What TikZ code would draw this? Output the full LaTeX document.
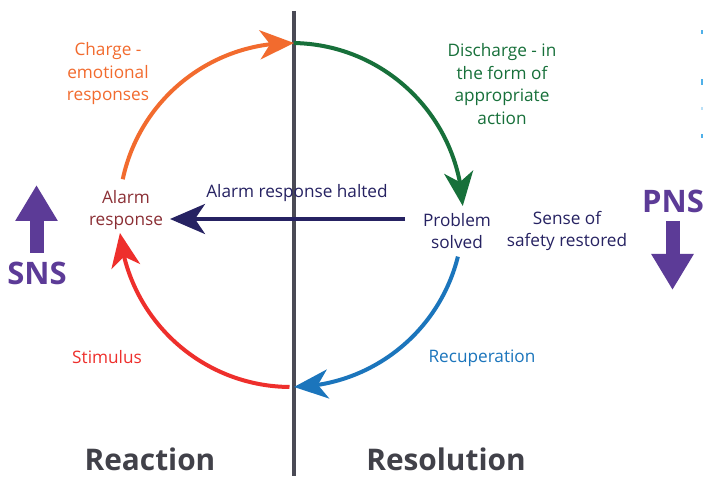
\documentclass[tikz,border=0pt]{standalone}
\usepackage{fontspec}
\setmainfont{Open Sans}
\usetikzlibrary{arrows.meta,bending}
\definecolor{cOrange}{HTML}{F26B2E}
\definecolor{cGreen}{HTML}{17703A}
\definecolor{cBlue}{HTML}{1B75BC}
\definecolor{cRed}{HTML}{EE2F2C}
\definecolor{cNavy}{HTML}{262262}
\definecolor{cMaroon}{HTML}{8B2F35}
\definecolor{cPurple}{HTML}{5C3B97}
\definecolor{cGrey}{HTML}{414149}
\definecolor{cDivider}{HTML}{4A4A55}
\definecolor{cSky}{HTML}{4FB0E8}
\begin{document}
\begin{tikzpicture}[x=1pt,y=1pt,
  lbl/.style={align=center,inner sep=0pt,font=\fontsize{17.2}{22.5}\selectfont},
  heading/.style={inner sep=0pt,anchor=base,text=cGrey,font=\fontsize{29.8}{30}\selectfont\bfseries},
  nsys/.style={inner sep=0pt,anchor=base,text=cPurple,font=\fontsize{31}{32}\selectfont\bfseries},
  cyc/.style={line width=4pt,-{Stealth[length=34pt,width=29pt,inset=10pt]}},
  bigarrow/.style={cPurple,line width=14pt,-{Triangle[length=36pt,width=40pt]}}]
\useasboundingbox (0,0) rectangle (703,476);
\fill[white] (0,0) rectangle (703,476);

% dividing line between the two phases
\coordinate (dtop) at (294,465);
\coordinate (dbot) at (294,0);
\draw[cDivider,line width=4pt] (dtop) -- (dbot);

% the cycle
\coordinate (cen) at (291,261);
\path (cen) ++(168:172) coordinate (oS);
\path (cen) ++(89:172) coordinate (gS);
\path (cen) ++(-14:172) coordinate (bS);
\path (cen) ++(-90.5:172) coordinate (rS);
\draw[cyc,cOrange] (oS) arc[start angle=168,end angle=89,radius=172];
\draw[cyc,cGreen] (gS) arc[start angle=89,end angle=3,radius=172];
\draw[cyc,cBlue] (bS) arc[start angle=-14,end angle=-89,radius=172];
\draw[cyc,cRed] (rS) arc[start angle=-90.5,end angle=-174,radius=172];

% labels
\node[lbl,text=cOrange] (charge) at (108,402) {Charge -\\emotional\\responses};
\node[lbl,text=cGreen] (discharge) at (502,392) {Discharge - in\\the form of\\appropriate\\action};
\node[lbl,text=cMaroon] (alarm) at (126,266) {Alarm\\response};
\node[lbl,text=cNavy] (problem) at (457,245) {Problem\\solved};
\node[lbl,text=cNavy] (safety) at (567,245) {Sense of\\safety restored};
\node[lbl,text=cNavy] (halted) at (297,283) {Alarm response halted};
\node[lbl,text=cRed] (stimulus) at (107,119) {Stimulus};
\node[lbl,text=cBlue] (recup) at (482,118) {Recuperation};

% halting arrow
\coordinate (hS) at (405,257);
\coordinate (hE) at (170,257);
\draw[cNavy,line width=3.5pt,-{Stealth[length=35pt,width=30pt,inset=10pt]}] (hS) -- (hE);

% phase headings
\node[heading] (reaction) at (150,6) {Reaction};
\node[heading] (resolution) at (446,6) {Resolution};

% nervous systems
\node[nsys] (sns) at (37,191) {SNS};
\node[nsys] (pns) at (673,263) {PNS};
\coordinate (snsA) at (36.5,223);
\coordinate (snsB) at (36.5,291);
\coordinate (pnsA) at (672.5,255);
\coordinate (pnsB) at (672.5,186);
\draw[bigarrow] (snsA) -- (snsB);
\draw[bigarrow] (pnsA) -- (pnsB);

% clipped marks at the right edge
\fill[cSky] (701,442) rectangle (703,446);
\fill[cSky] (701,391) rectangle (703,397);
\fill[cSky!40] (701,366) rectangle (703,369);
\fill[cSky] (701,338) rectangle (703,342);
\end{tikzpicture}
\end{document}
